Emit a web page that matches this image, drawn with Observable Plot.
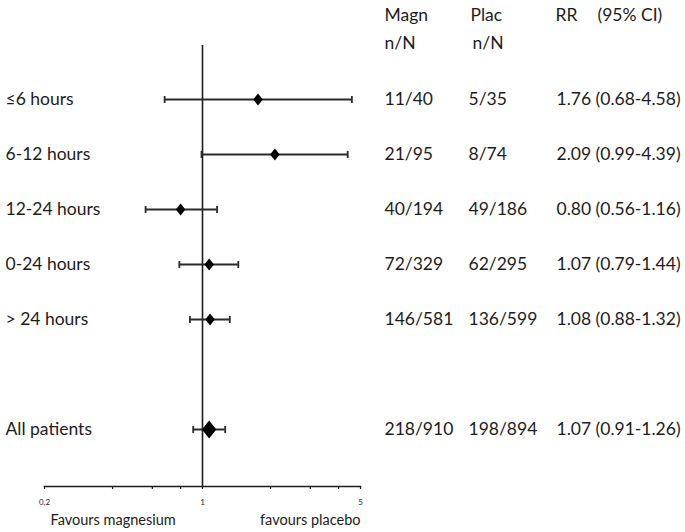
<!DOCTYPE html>
<html>
<head>
<meta charset="utf-8">
<script src="https://cdn.jsdelivr.net/npm/d3@7"></script>
<script src="https://cdn.jsdelivr.net/npm/@observablehq/plot@0.6"></script>
<style>
  html, body { margin: 0; padding: 0; background: #fff; }
  svg { display: block; }
</style>
</head>
<body>
<div id="chart"></div>
<script>
// ---- data ----
const labels = ["≤6 hours", "6-12 hours", "12-24 hours", "0-24 hours", "> 24 hours", "All patients"];
const magn = ["11/40", "21/95", "40/194", "72/329", "146/581", "218/910"];
const plac = ["5/35", "8/74", "49/186", "62/295", "136/599", "198/894"];
const rr = [1.76, 2.09, 0.80, 1.07, 1.08, 1.07];
const lo = [0.68, 0.99, 0.56, 0.79, 0.88, 0.91];
const hi = [4.58, 4.39, 1.16, 1.44, 1.32, 1.26];
const summaryLabel = "All patients";
const tickValues = [0.2, 0.4, 0.6, 0.8, 1, 2, 3, 4, 5];
const tickLabels = ["0,2", "", "", "", "1", "", "", "", "5"];
const headerMagn = ["Magn", "n/N"];
const headerPlac = ["Plac", "n/N"];
const headerRR = ["RR", "(95% CI)"];
const footLeft = "Favours magnesium";
const footRight = "favours placebo";

const rows = labels.map((label, i) => ({
  label, magn: magn[i], plac: plac[i], rr: rr[i], lo: lo[i], hi: hi[i],
  ci: `${rr[i].toFixed(2)} (${lo[i].toFixed(2)}-${hi[i].toFixed(2)})`,
  summary: label === summaryLabel
}));

const yDomain = [...labels.slice(0, 5), " ", labels[5]];

const diamond = {
  draw(ctx, size) {
    const h = Math.sqrt(size / Math.PI);
    const w = h * 0.8;
    ctx.moveTo(0, -h); ctx.lineTo(w, 0); ctx.lineTo(0, h); ctx.lineTo(-w, 0); ctx.closePath();
  }
};
const vbar = {
  draw(ctx, size) {
    const h = Math.sqrt(size / Math.PI);
    ctx.moveTo(0, -h); ctx.lineTo(0, h);
  }
};

const W = 685, H = 532;
const mL = 44, mR = W - 360, mT = 45, mB = H - 486;
const font = "Lato, 'Open Sans', sans-serif";
const ink = "#1c1c1c";
const fs = 17.5;

const hdr = (arr, i, x, y) => Plot.text([arr[i]], {
  text: d => d, frameAnchor: "top-left", dx: x - mL, dy: y - mT,
  textAnchor: "start", lineAnchor: "middle", fontSize: fs, fill: ink
});

const chart = Plot.plot({
  width: W, height: H,
  marginLeft: mL, marginRight: mR, marginTop: mT, marginBottom: mB,
  style: { fontFamily: font, background: "#fff", color: ink, overflow: "visible" },
  x: { type: "log", domain: [0.2, 5] },
  y: { type: "point", domain: yDomain, range: [99, 429], padding: 0, axis: null },
  r: { type: "identity" },
  marks: [
    Plot.frame({ anchor: "bottom", stroke: ink, strokeWidth: 1.5 }),
    Plot.axisX({
      ticks: tickValues,
      tickFormat: d => tickLabels[tickValues.indexOf(d)],
      tickSize: 3, tickPadding: 10, fontSize: 8, stroke: ink, strokeWidth: 1.2, label: null
    }),
    Plot.ruleX([1], { stroke: ink, strokeWidth: 1.6 }),
    Plot.ruleY(rows, { y: "label", x1: "lo", x2: "hi", stroke: "#2a2a2a", strokeWidth: 1.8 }),
    Plot.dot(rows, { x: "lo", y: "label", symbol: vbar, r: 3.5, stroke: "#2a2a2a", strokeWidth: 1.8, fill: "none" }),
    Plot.dot(rows, { x: "hi", y: "label", symbol: vbar, r: 3.5, stroke: "#2a2a2a", strokeWidth: 1.8, fill: "none" }),
    Plot.dot(rows, { x: "rr", y: "label", symbol: diamond, r: d => d.summary ? 9 : 6, fill: "#000", stroke: "none" }),
    // row labels and columns
    Plot.text(rows, { y: "label", text: "label", frameAnchor: "left", dx: 5 - mL, textAnchor: "start", fontSize: fs, fill: ink }),
    Plot.text(rows, { y: "label", text: "magn", frameAnchor: "left", dx: 384 - mL, textAnchor: "start", fontSize: fs, fill: ink }),
    Plot.text(rows, { y: "label", text: "plac", frameAnchor: "left", dx: 468 - mL, textAnchor: "start", fontSize: fs, fill: ink }),
    Plot.text(rows, { y: "label", text: "ci", frameAnchor: "left", dx: 556 - mL, textAnchor: "start", fontSize: fs, fill: ink }),
    // headers
    hdr(headerMagn, 0, 384, 15),
    hdr(headerMagn, 1, 384, 43),
    hdr(headerPlac, 0, 470, 15),
    hdr(headerPlac, 1, 472, 43),
    hdr(headerRR, 0, 555, 15),
    hdr(headerRR, 1, 597, 15),
    // footer labels
    Plot.text([footLeft], { text: d => d, frameAnchor: "bottom-left", dx: 50 - mL, dy: 34, textAnchor: "start", lineAnchor: "middle", fontSize: 14.5, fill: ink }),
    Plot.text([footRight], { text: d => d, frameAnchor: "bottom-right", dx: 0, dy: 34, textAnchor: "end", lineAnchor: "middle", fontSize: 14.5, fill: ink })
  ]
});

document.getElementById("chart").appendChild(chart);
</script>
</body>
</html>
